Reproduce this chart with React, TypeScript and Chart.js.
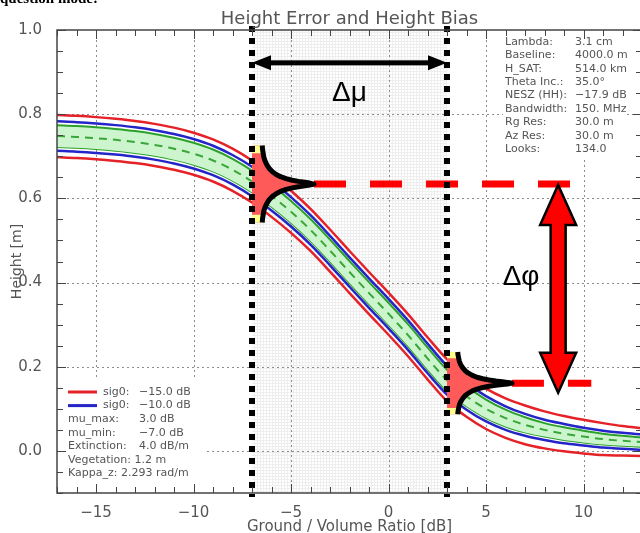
import React, { useEffect, useRef } from 'react';
import { Chart, registerables } from 'chart.js';

Chart.register(...registerables);

const FONT = '"DejaVu Sans", sans-serif';
const TEXT = '#555';

// Ground / volume ratio [dB]
const groundVolumeRatio = [-17, -16, -15, -14, -13, -12, -11, -10, -9, -8, -7, -6, -5, -4, -3, -2, -1, 0, 1, 2, 3, 4, 5, 6, 7, 8, 9, 10, 11, 12, 13];

// Mean phase-centre height [m] (green dashed)
const heightMean = [0.748, 0.746, 0.743, 0.739, 0.734, 0.727, 0.718, 0.706, 0.690, 0.668, 0.640, 0.606, 0.568, 0.525, 0.476, 0.425, 0.375, 0.326, 0.275, 0.220, 0.168, 0.130, 0.100, 0.078, 0.062, 0.050, 0.041, 0.034, 0.028, 0.024, 0.021];
// Green band (bias)
const greenUpper = [0.774, 0.772, 0.769, 0.765, 0.760, 0.753, 0.744, 0.732, 0.716, 0.694, 0.666, 0.632, 0.594, 0.551, 0.502, 0.451, 0.401, 0.352, 0.301, 0.246, 0.193, 0.154, 0.122, 0.098, 0.080, 0.066, 0.056, 0.048, 0.041, 0.036, 0.032];
const greenLower = [0.722, 0.720, 0.717, 0.713, 0.708, 0.701, 0.692, 0.680, 0.664, 0.642, 0.614, 0.580, 0.542, 0.499, 0.450, 0.399, 0.349, 0.300, 0.249, 0.194, 0.143, 0.106, 0.078, 0.058, 0.044, 0.034, 0.026, 0.020, 0.015, 0.012, 0.010];
// sig0 = -10 dB (blue)
const blueUpper = [0.783, 0.781, 0.778, 0.774, 0.769, 0.762, 0.753, 0.741, 0.725, 0.703, 0.675, 0.641, 0.603, 0.560, 0.511, 0.460, 0.410, 0.361, 0.310, 0.255, 0.202, 0.162, 0.130, 0.106, 0.088, 0.074, 0.064, 0.055, 0.048, 0.043, 0.039];
const blueLower = [0.713, 0.711, 0.708, 0.704, 0.699, 0.692, 0.683, 0.671, 0.655, 0.633, 0.605, 0.571, 0.533, 0.490, 0.441, 0.390, 0.340, 0.291, 0.240, 0.185, 0.134, 0.098, 0.070, 0.050, 0.036, 0.026, 0.018, 0.013, 0.008, 0.005, 0.003];
// sig0 = -15 dB (red)
const redUpper = [0.798, 0.796, 0.793, 0.789, 0.784, 0.777, 0.768, 0.756, 0.740, 0.718, 0.690, 0.656, 0.618, 0.575, 0.526, 0.475, 0.425, 0.376, 0.325, 0.270, 0.218, 0.179, 0.148, 0.125, 0.108, 0.094, 0.083, 0.074, 0.066, 0.059, 0.054];
const redLower = [0.698, 0.696, 0.693, 0.689, 0.684, 0.677, 0.668, 0.656, 0.640, 0.618, 0.590, 0.556, 0.518, 0.475, 0.426, 0.375, 0.325, 0.276, 0.225, 0.170, 0.118, 0.081, 0.052, 0.031, 0.016, 0.006, -0.001, -0.006, -0.010, -0.011, -0.012];

const xTickValues = [-15, -10, -5, 0, 5, 10];
const yTickValues = [0, 0.2, 0.4, 0.6, 0.8, 1.0];

// Annotation values
const muBounds = [-7, 3];
const pdfPeakHeights = [0.634, 0.161];
const pdfHalfSpans = [0.0915, 0.074];
const pdfTipWidths = [3.18, 3.33];
const pdfProfileU = [-1, -0.9, -0.8, -0.7, -0.6, -0.5, -0.4, -0.32, -0.25, -0.19, -0.14, -0.1, -0.07, -0.045, -0.025, -0.01, 0, 0.01, 0.025, 0.045, 0.07, 0.1, 0.14, 0.19, 0.25, 0.32, 0.4, 0.5, 0.6, 0.7, 0.8, 0.9, 1];
const pdfProfileW = [0.165, 0.17, 0.18, 0.19, 0.21, 0.24, 0.28, 0.33, 0.39, 0.46, 0.55, 0.65, 0.75, 0.85, 0.93, 0.97, 1, 0.97, 0.93, 0.85, 0.75, 0.65, 0.55, 0.46, 0.39, 0.33, 0.28, 0.24, 0.21, 0.19, 0.18, 0.17, 0.165];
const phaseLineEnds = [9.4, 10.4];
const dMuArrowHeight = 0.922;
const dMuLabelHeight = 0.85;
const dPhiArrowX = 8.7;
const dPhiArrowTips = [0.632, 0.138];
const dPhiLabelPos = [6.8, 0.413];

const legendLabels = ['sig0:', 'sig0:', 'mu_max:', 'mu_min:', 'Extinction:', 'Vegetation:', 'Kappa_z:'];
const legendValues = ['\u221215.0 dB', '\u221210.0 dB', '3.0 dB', '\u22127.0 dB', '4.0 dB/m', '1.2 m', '2.293 rad/m'];
const legendColors = ['#e42228', '#2424c8'];
const paramLabels = ['Lambda:', 'Baseline:', 'H_SAT:', 'Theta Inc.:', 'NESZ (HH):', 'Bandwidth:', 'Rg Res:', 'Az Res:', 'Looks:'];
const paramValues = ['3.1 cm', '4000.0 m', '514.0 km', '35.0\u00b0', '\u221217.9 dB', '150. MHz', '30.0 m', '30.0 m', '134.0'];

const fmtX = (v: number) => (v < 0 ? '\u2212' + Math.abs(v) : String(v));

function drawPdf(ctx: any, x: any, y: any, k: number) {
  const mu = muBounds[k];
  const h = pdfPeakHeights[k];
  const half = pdfHalfSpans[k];
  const tip = pdfTipWidths[k];
  const bx = x.getPixelForValue(mu);
  const pts = pdfProfileU.map((u, i) => [x.getPixelForValue(mu + tip * pdfProfileW[i]), y.getPixelForValue(h + half * u)]);
  const n = pts.length;
  ctx.beginPath();
  ctx.moveTo(bx, pts[0][1]);
  pts.forEach((p) => ctx.lineTo(p[0], p[1]));
  ctx.lineTo(bx, pts[n - 1][1]);
  ctx.closePath();
  ctx.fillStyle = '#ff5a5a';
  ctx.fill();
  // yellow tails
  ctx.fillStyle = '#ffff8c';
  const tail = (idx: number[]) => {
    ctx.beginPath();
    ctx.moveTo(bx, pts[idx[0]][1]);
    idx.forEach((i) => ctx.lineTo(pts[i][0], pts[i][1]));
    ctx.lineTo(bx, pts[idx[idx.length - 1]][1]);
    ctx.closePath();
    ctx.fill();
  };
  tail([0, 1, 2]);
  tail([n - 3, n - 2, n - 1]);
  ctx.beginPath();
  pts.forEach((p, i) => (i ? ctx.lineTo(p[0], p[1]) : ctx.moveTo(p[0], p[1])));
  ctx.strokeStyle = '#000';
  ctx.lineWidth = 5;
  ctx.lineJoin = 'round';
  ctx.lineCap = 'butt';
  ctx.stroke();
}

const sketchPlugin = {
  id: 'sketch',
  beforeDatasetsDraw(chart: any) {
    const { ctx, chartArea: a, scales } = chart;
    const x = scales.x;
    const y = scales.y;
    ctx.save();
    const x0 = x.getPixelForValue(muBounds[0]);
    const x1 = x.getPixelForValue(muBounds[1]);
    ctx.strokeStyle = '#eeeeee';
    ctx.lineWidth = 1;
    ctx.beginPath();
    for (let px = Math.floor(x0) + 2.5; px < x1; px += 3) {
      ctx.moveTo(px, a.top);
      ctx.lineTo(px, a.bottom);
    }
    for (let py = Math.floor(a.top) + 2.5; py < a.bottom; py += 3) {
      ctx.moveTo(x0, py);
      ctx.lineTo(x1, py);
    }
    ctx.stroke();
    // major dotted grid
    ctx.strokeStyle = '#8c8c8c';
    ctx.setLineDash([2, 3]);
    ctx.beginPath();
    xTickValues.forEach((v) => {
      const px = Math.round(x.getPixelForValue(v)) + 0.5;
      ctx.moveTo(px, a.top);
      ctx.lineTo(px, a.bottom);
    });
    yTickValues.forEach((v) => {
      if (v >= 1) return;
      const py = Math.round(y.getPixelForValue(v)) + 0.5;
      ctx.moveTo(a.left, py);
      ctx.lineTo(a.right, py);
    });
    ctx.stroke();
    ctx.setLineDash([]);
    // white boxes behind the text blocks
    ctx.fillStyle = '#fff';
    ctx.fillRect(a.left + 3, a.bottom - 113, 146, 105);
    ctx.fillRect(a.right - 139, a.top + 1, 124, 126);
    ctx.restore();
  },
  afterDatasetsDraw(chart: any) {
    const { ctx, chartArea: a, scales } = chart;
    const x = scales.x;
    const y = scales.y;
    ctx.save();
    // red dashed phase-centre lines
    ctx.strokeStyle = '#ff0000';
    ctx.lineWidth = 7;
    ctx.setLineDash([32, 24]);
    ctx.lineCap = 'butt';
    for (let k = 0; k < 2; k++) {
      const py = y.getPixelForValue(pdfPeakHeights[k]);
      ctx.beginPath();
      ctx.moveTo(x.getPixelForValue(muBounds[k] + pdfTipWidths[k]), py);
      ctx.lineTo(x.getPixelForValue(phaseLineEnds[k]), py);
      ctx.stroke();
    }
    ctx.setLineDash([]);
    // pdf shapes
    drawPdf(ctx, x, y, 0);
    drawPdf(ctx, x, y, 1);
    // dotted black verticals
    ctx.strokeStyle = '#000';
    ctx.lineWidth = 6;
    ctx.setLineDash([6, 6]);
    muBounds.forEach((m) => {
      const px = x.getPixelForValue(m);
      ctx.beginPath();
      ctx.moveTo(px, a.top - 4);
      ctx.lineTo(px, a.bottom + 4);
      ctx.stroke();
    });
    ctx.setLineDash([]);
    // delta-mu arrow
    const ay = y.getPixelForValue(dMuArrowHeight);
    const xa = x.getPixelForValue(muBounds[0]);
    const xb = x.getPixelForValue(muBounds[1]);
    ctx.fillStyle = '#000';
    ctx.fillRect(xa + 10, ay - 2.5, xb - xa - 20, 5);
    ctx.beginPath();
    ctx.moveTo(xa, ay);
    ctx.lineTo(xa + 19, ay - 7.5);
    ctx.lineTo(xa + 19, ay + 7.5);
    ctx.closePath();
    ctx.moveTo(xb, ay);
    ctx.lineTo(xb - 19, ay - 7.5);
    ctx.lineTo(xb - 19, ay + 7.5);
    ctx.closePath();
    ctx.fill();
    // delta-phi arrow
    const cx = x.getPixelForValue(dPhiArrowX);
    const ty = y.getPixelForValue(dPhiArrowTips[0]);
    const by = y.getPixelForValue(dPhiArrowTips[1]);
    const hl = 40, hw = 18, sw = 7.5;
    ctx.beginPath();
    ctx.moveTo(cx, ty);
    ctx.lineTo(cx + hw, ty + hl);
    ctx.lineTo(cx + sw, ty + hl);
    ctx.lineTo(cx + sw, by - hl);
    ctx.lineTo(cx + hw, by - hl);
    ctx.lineTo(cx, by);
    ctx.lineTo(cx - hw, by - hl);
    ctx.lineTo(cx - sw, by - hl);
    ctx.lineTo(cx - sw, ty + hl);
    ctx.lineTo(cx - hw, ty + hl);
    ctx.closePath();
    ctx.fillStyle = '#ff0000';
    ctx.fill();
    ctx.strokeStyle = '#000';
    ctx.lineWidth = 2.5;
    ctx.lineJoin = 'miter';
    ctx.stroke();
    // labels
    ctx.fillStyle = '#000';
    ctx.font = '28px "Liberation Sans", Arial, sans-serif';
    ctx.textAlign = 'center';
    ctx.textBaseline = 'middle';
    ctx.fillText('\u0394\u03bc', x.getPixelForValue((muBounds[0] + muBounds[1]) / 2), y.getPixelForValue(dMuLabelHeight));
    ctx.fillText('\u0394\u03c6', x.getPixelForValue(dPhiLabelPos[0]), y.getPixelForValue(dPhiLabelPos[1]));

    // frame and inward ticks
    ctx.strokeStyle = '#444';
    ctx.lineWidth = 1.5;
    ctx.strokeRect(a.left, a.top, a.right - a.left, a.bottom - a.top);
    ctx.lineWidth = 1;
    ctx.beginPath();
    for (let v = -17; v <= 13; v++) {
      const px = Math.round(x.getPixelForValue(v)) + 0.5;
      const len = v % 5 === 0 ? 9 : 6;
      ctx.moveTo(px, a.bottom);
      ctx.lineTo(px, a.bottom - len);
      ctx.moveTo(px, a.top);
      ctx.lineTo(px, a.top + len);
    }
    for (let k = -2; k <= 20; k++) {
      const py = Math.round(y.getPixelForValue(k * 0.05)) + 0.5;
      const len = k % 4 === 0 ? 9 : 6;
      ctx.moveTo(a.left, py);
      ctx.lineTo(a.left + len, py);
      ctx.moveTo(a.right, py);
      ctx.lineTo(a.right - len, py);
    }
    ctx.stroke();

    // legend block
    ctx.font = '11px ' + FONT;
    ctx.fillStyle = TEXT;
    ctx.textAlign = 'left';
    ctx.textBaseline = 'middle';
    legendLabels.forEach((lab, i) => {
      const ry = a.bottom - 101 + i * 13.6;
      if (i < 2) {
        ctx.strokeStyle = legendColors[i];
        ctx.lineWidth = 3;
        ctx.beginPath();
        ctx.moveTo(a.left + 11, ry);
        ctx.lineTo(a.left + 40, ry);
        ctx.stroke();
        ctx.fillText(lab, a.left + 46, ry);
        ctx.fillText(legendValues[i], a.left + 82, ry);
      } else if (i <= 4) {
        ctx.fillText(lab, a.left + 11, ry);
        ctx.fillText(legendValues[i], a.left + 82, ry);
      } else {
        ctx.fillText(lab + ' ' + legendValues[i], a.left + 11, ry);
      }
    });
    // parameter block
    paramLabels.forEach((lab, i) => {
      const ry = a.top + 12 + i * 13.4;
      ctx.fillText(lab, a.right - 137, ry);
      ctx.fillText(paramValues[i], a.right - 67, ry);
    });
    ctx.restore();
  },
  afterDraw(chart: any) {
    const { ctx, chartArea: a } = chart;
    ctx.save();
    ctx.fillStyle = TEXT;
    ctx.font = '18px ' + FONT;
    ctx.textAlign = 'center';
    ctx.textBaseline = 'alphabetic';
    ctx.fillText('Height Error and Height Bias', (a.left + a.right) / 2, 23.5);
    ctx.fillStyle = '#000';
    ctx.font = 'bold 15px "Liberation Serif", serif';
    ctx.textAlign = 'left';
    ctx.fillText('question mode:', 0, 3);
    ctx.restore();
  },
};

export default function App() {
  const ref = useRef<HTMLCanvasElement>(null);
  useEffect(() => {
    const mk = (arr: number[]) => groundVolumeRatio.map((v, i) => ({ x: v, y: arr[i] }));
    const chart = new Chart(ref.current as HTMLCanvasElement, {
      type: 'line',
      data: {
        datasets: [
          { data: mk(heightMean), borderColor: '#3aa63a', borderWidth: 2, borderDash: [8, 6], fill: false },
          { data: mk(greenUpper), borderColor: '#2ca02c', borderWidth: 2, backgroundColor: '#cdf5cd', fill: '+1' },
          { data: mk(greenLower), borderColor: '#2ca02c', borderWidth: 2, fill: false },
          { data: mk(blueUpper), borderColor: '#2424c8', borderWidth: 2.5, fill: false },
          { data: mk(blueLower), borderColor: '#2424c8', borderWidth: 2.5, fill: false },
          { data: mk(redUpper), borderColor: '#e42228', borderWidth: 2.5, fill: false },
          { data: mk(redLower), borderColor: '#e42228', borderWidth: 2.5, fill: false },
        ] as any,
      },
      options: {
        animation: false,
        responsive: true,
        maintainAspectRatio: false,
        events: [],
        layout: { padding: { top: 30, right: 3, left: 0, bottom: 0 } },
        elements: { point: { radius: 0 }, line: { cubicInterpolationMode: 'monotone' } },
        plugins: { legend: { display: false }, tooltip: { enabled: false }, title: { display: false } },
        scales: {
          x: {
            type: 'linear',
            min: -17,
            max: 13,
            grid: { display: false },
            border: { display: false },
            afterBuildTicks: (s: any) => {
              s.ticks = xTickValues.map((v) => ({ value: v }));
            },
            afterFit: (s: any) => {
              s.height = 52;
            },
            ticks: {
              color: TEXT,
              font: { family: FONT, size: 15 },
              padding: 3,
              maxRotation: 0,
              autoSkip: false,
              callback: (v: any) => fmtX(Number(v)),
            },
            title: {
              display: true,
              text: 'Ground / Volume Ratio [dB]',
              color: TEXT,
              font: { family: FONT, size: 15 },
              padding: { top: 0, bottom: 9 },
            },
          },
          y: {
            type: 'linear',
            min: -0.1,
            max: 1.0,
            grid: { display: false },
            border: { display: false },
            afterBuildTicks: (s: any) => {
              s.ticks = yTickValues.map((v) => ({ value: v }));
            },
            afterFit: (s: any) => {
              s.width = 57;
            },
            ticks: {
              color: TEXT,
              font: { family: FONT, size: 15 },
              padding: 7,
              autoSkip: false,
              callback: (v: any) => Number(v).toFixed(1),
            },
            title: {
              display: true,
              text: 'Height [m]',
              color: TEXT,
              font: { family: FONT, size: 14 },
              padding: { top: 9, bottom: 0 },
            },
          },
        },
      } as any,
      plugins: [sketchPlugin as any],
    });
    return () => chart.destroy();
  }, []);
  return (
    <div style={{ position: 'fixed', left: 0, top: 0, width: 645, height: 545, background: '#fff' }}>
      <canvas ref={ref} />
    </div>
  );
}
